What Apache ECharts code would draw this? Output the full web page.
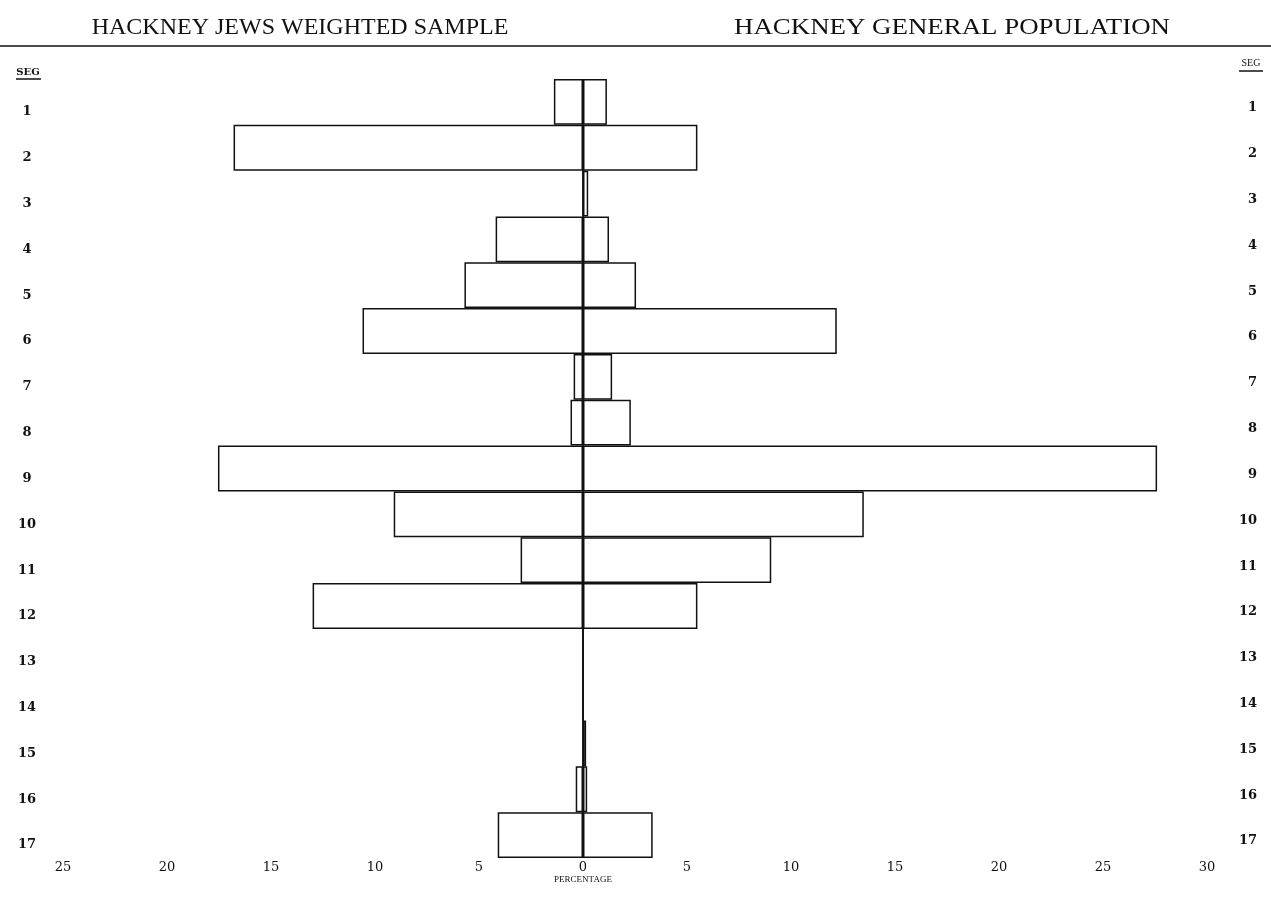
<!DOCTYPE html>
<html>
<head>
<meta charset="utf-8">
<script src="https://cdn.jsdelivr.net/npm/echarts@6/dist/echarts.min.js"></script>
<style>
html,body{margin:0;padding:0;background:#fff;}
#c{width:1271px;height:917px;}
</style>
</head>
<body>
<div id="c"></div>
<script>
// Socio-economic groups (SEG) 1..17
const segments = ['1','2','3','4','5','6','7','8','9','10','11','12','13','14','15','16','17'];
// Hackney Jews weighted sample (% , drawn to the left)
const jewsSample = [1.4, 16.8, 0, 4.2, 5.7, 10.6, 0.45, 0.6, 17.55, 9.1, 3.0, 13.0, 0, 0, 0, 0.35, 4.1];
// Hackney general population (% , drawn to the right)
const generalPop = [1.15, 5.5, 0.25, 1.25, 2.55, 12.2, 1.4, 2.3, 27.6, 13.5, 9.05, 5.5, 0, 0, 0.15, 0.2, 3.35];
// Percentage axis ticks
const axisMin = -25, axisMax = 30, axisStep = 5;

const titleLeft = 'HACKNEY JEWS WEIGHTED SAMPLE';
const titleRight = 'HACKNEY GENERAL POPULATION';

const chart = echarts.init(document.getElementById('c'), null, {renderer: 'canvas'});
const numFont = '"DejaVu Serif", serif';
const barStyle = {color: '#ffffff', borderColor: '#111', borderWidth: 1.5};

chart.setOption({
  animation: false,
  backgroundColor: '#ffffff',
  grid: {left: 63, right: 64, top: 79, bottom: 59, containLabel: false},
  xAxis: {
    type: 'value', min: axisMin, max: axisMax, interval: axisStep,
    axisLine: {show: false}, axisTick: {show: false}, splitLine: {show: false},
    axisLabel: {
      formatter: v => String(Math.abs(v)),
      color: '#111', fontFamily: numFont, fontSize: 13, margin: 3
    }
  },
  yAxis: [
    {
      type: 'category', data: segments, inverse: true, position: 'left',
      axisLine: {show: false, onZero: false}, axisTick: {show: false}, splitLine: {show: false},
      axisLabel: {color: '#111', fontFamily: numFont, fontSize: 13, fontWeight: 'bold',
        align: 'center', verticalAlign: 'top', lineHeight: 20, margin: 36}
    },
    {
      type: 'category', data: segments, inverse: true, position: 'right',
      axisLine: {show: false, onZero: false}, axisTick: {show: false}, splitLine: {show: false},
      axisLabel: {color: '#111', fontFamily: numFont, fontSize: 13, fontWeight: 'bold',
        align: 'right', verticalAlign: 'top', lineHeight: 12, margin: 50}
    }
  ],
  series: [
    {
      name: titleLeft, type: 'bar', stack: 'pyr', yAxisIndex: 0,
      barCategoryGap: '0%', barWidth: '100%',
      data: jewsSample.map(v => -v),
      itemStyle: barStyle,
      silent: true,
      markLine: {
        silent: true, symbol: 'none', label: {show: false},
        lineStyle: {color: '#111', width: 1.5, type: 'solid'},
        data: [{xAxis: 0}]
      }
    },
    {
      name: titleRight, type: 'bar', stack: 'pyr', yAxisIndex: 0,
      barCategoryGap: '0%', barWidth: '100%',
      data: generalPop,
      itemStyle: barStyle,
      silent: true
    }
  ],
  graphic: [
    {type: 'text', x: 300, y: 28, style: {text: titleLeft, fill: '#111',
      font: '24px "Liberation Serif", serif', textAlign: 'center', textVerticalAlign: 'middle'}},
    {type: 'text', x: 952, y: 28, scaleX: 1.12, style: {text: titleRight, fill: '#111',
      font: '24px "Liberation Serif", serif', textAlign: 'center', textVerticalAlign: 'middle'}},
    {type: 'line', shape: {x1: 0, y1: 46, x2: 1271, y2: 46}, style: {stroke: '#111', lineWidth: 1.5}},
    {type: 'text', x: 28, y: 72, style: {text: 'SEG', fill: '#111',
      font: 'bold 10px "DejaVu Serif", serif', textAlign: 'center', textVerticalAlign: 'middle'}},
    {type: 'line', shape: {x1: 16, y1: 79, x2: 41, y2: 79}, style: {stroke: '#111', lineWidth: 1.5}},
    {type: 'text', x: 1251, y: 63, style: {text: 'SEG', fill: '#111',
      font: '10px "Liberation Serif", serif', textAlign: 'center', textVerticalAlign: 'middle'}},
    {type: 'line', shape: {x1: 1239, y1: 71, x2: 1263, y2: 71}, style: {stroke: '#111', lineWidth: 1.5}},
    {type: 'text', x: 583, y: 880, style: {text: 'PERCENTAGE', fill: '#111',
      font: '9px "Liberation Serif", serif', textAlign: 'center', textVerticalAlign: 'middle'}}
  ]
});
</script>
</body>
</html>
